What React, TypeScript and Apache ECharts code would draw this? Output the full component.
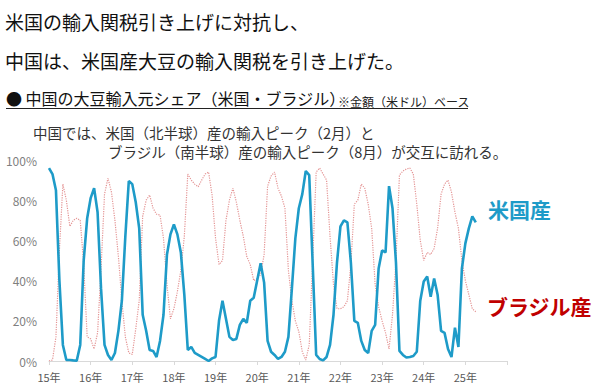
import React, { useEffect, useRef } from "react";
import * as echarts from "echarts";

// Monthly share of China's soybean imports (value, USD), Jan 2015 onward
const usShare = [
  96, 93, 85, 40, 8, 0.5, 0.5, 0.3, 0.2, 8, 50, 71,
  81, 86, 74, 36, 8, 3, 0.5, 4, 15, 30, 62, 89.5,
  88, 79, 66, 23, 15, 5.5, 5, 2, 10, 23, 53, 63,
  68, 63, 54, 33, 5.5, 7, 4, 3, 2, 1, 0, 1.3,
  2, 20, 30, 21, 12, 10.5, 11, 18, 21, 19, 30, 31.5,
  40, 48.6, 39, 10, 4.6, 3, 1, 2, 4.6, 12, 36, 61,
  76, 83, 94.5, 92.5, 48, 3, 1, 0.3, 2, 8, 23, 49,
  67, 70, 69, 49, 20, 19, 10, 5.5, 4, 15, 18, 46,
  55, 54, 87, 76, 49, 5, 3, 1.7, 2, 2.5, 4.6, 30,
  39.5, 42, 32, 41, 33, 15, 14, 6, 2, 16.6, 7, 46,
  58.5, 66, 72, 69,
];

const brazilShare = [
  0, 0.5, 12, 55, 88, 80, 67, 70, 71, 70, 48, 12,
  11, 6, 14, 46, 83, 91, 84, 70, 52, 30, 12, 4,
  3.3, 16, 30, 72, 80, 82.6, 76, 73, 72.6, 61, 38, 21,
  26, 34.5, 45, 62, 93, 90, 88, 86.7, 90, 93, 94, 82.6,
  61, 48, 50, 70, 80, 86, 79, 70, 62, 52, 48, 40,
  41, 43, 53, 87, 92, 94, 86, 82, 76, 45, 30, 20,
  14.6, 4.6, 0.5, 8, 50, 94, 96, 93, 90, 62, 38, 26,
  26, 27, 30, 48, 78, 80, 88, 86, 78, 66, 38, 27,
  20, 14, 6, 23, 50, 92.5, 94.5, 95.5, 96, 93, 78, 60,
  50, 54, 53, 56, 66, 83, 88, 90, 84, 74, 66, 50,
  40, 33, 26, 24.5,
];

const startYear = 15;
const yearCount = 11;
const yTicks = [0, 20, 40, 60, 80, 100];

const titleLine1 = "米国の輸入関税引き上げに対抗し、";
const titleLine2 = "中国は、米国産大豆の輸入関税を引き上げた。";
const sectionTitle = "● 中国の大豆輸入元シェア（米国・ブラジル）";
const sectionNote = "※金額（米ドル）ベース";
const noteLine1 = "中国では、米国（北半球）産の輸入ピーク（2月）と";
const noteLine2 = "ブラジル（南半球）産の輸入ピーク（8月）が交互に訪れる。";
const usLabel = "米国産";
const brLabel = "ブラジル産";

const FONT = "'Noto Sans CJK JP', 'Noto Sans', sans-serif";

export default function App() {
  const ref = useRef<HTMLDivElement>(null);
  useEffect(() => {
    if (!ref.current) return;
    const chart = echarts.init(ref.current, undefined, { renderer: "svg" });
    const usData = usShare.map((v, i) => [i, v]);
    const brData = brazilShare.map((v, i) => [i, v]);
    chart.setOption({
      animation: false,
      backgroundColor: "#ffffff",
      textStyle: { fontFamily: FONT },
      grid: { left: 49, right: 93, top: 160, bottom: 31 },
      xAxis: {
        type: "value",
        min: 0,
        max: yearCount * 12,
        interval: 12,
        axisLine: { show: true, lineStyle: { color: "#d9d9d9", width: 1 } },
        axisTick: { show: true, length: 4, lineStyle: { color: "#d9d9d9" } },
        splitLine: { show: false },
        axisLabel: {
          color: "#595959",
          fontSize: 11,
          fontFamily: FONT,
          margin: 10,
          formatter: (v: number) =>
            v < yearCount * 12 ? `${startYear + v / 12}年` : "",
        },
      },
      yAxis: {
        type: "value",
        min: yTicks[0],
        max: yTicks[yTicks.length - 1],
        interval: 20,
        axisLine: { show: false },
        axisTick: { show: false },
        splitLine: { show: false },
        axisLabel: {
          color: "#7f7f7f",
          fontSize: 12,
          fontFamily: FONT,
          margin: 12,
          formatter: "{value}%",
        },
      },
      series: [
        {
          type: "line",
          data: brData,
          showSymbol: false,
          symbol: "none",
          lineStyle: { color: "#e49494", width: 1.2, type: "dotted" },
          z: 2,
        },
        {
          type: "line",
          data: usData,
          showSymbol: false,
          symbol: "none",
          lineStyle: { color: "#1e9bc8", width: 2.6 },
          z: 3,
        },
      ],
      graphic: [
        {
          type: "text",
          left: 5,
          top: 12,
          style: { text: titleLine1, fontSize: 19, fill: "#111", fontFamily: FONT },
        },
        {
          type: "text",
          left: 5,
          top: 51,
          style: { text: titleLine2, fontSize: 19, fill: "#111", fontFamily: FONT },
        },
        {
          type: "text",
          left: 6,
          top: 90,
          style: { text: sectionTitle, fontSize: 16, fill: "#111", fontFamily: FONT },
        },
        {
          type: "text",
          left: 338,
          top: 95,
          style: { text: sectionNote, fontSize: 12, fill: "#222", fontFamily: FONT },
        },
        {
          type: "line",
          shape: { x1: 6, y1: 108.5, x2: 468, y2: 108.5 },
          style: { stroke: "#222", lineWidth: 1 },
        },
        {
          type: "text",
          left: 33,
          top: 125,
          style: {
            text: noteLine1,
            fontSize: 14.5,
            fill: "#333",
            fontFamily: FONT,
          },
        },
        {
          type: "text",
          left: 108,
          top: 144,
          style: {
            text: noteLine2,
            fontSize: 14.5,
            fill: "#333",
            fontFamily: FONT,
          },
        },
        {
          type: "text",
          left: 488,
          top: 198,
          style: {
            text: usLabel,
            fontSize: 21,
            fontWeight: "bold",
            fill: "#1e9bc8",
            fontFamily: FONT,
          },
        },
        {
          type: "text",
          left: 487,
          top: 295,
          style: {
            text: brLabel,
            fontSize: 21,
            fontWeight: "bold",
            fill: "#c00000",
            fontFamily: FONT,
          },
        },
      ],
    });
    return () => chart.dispose();
  }, []);
  return (
    <div
      ref={ref}
      style={{ position: "fixed", left: 0, top: 0, width: 600, height: 392 }}
    />
  );
}
